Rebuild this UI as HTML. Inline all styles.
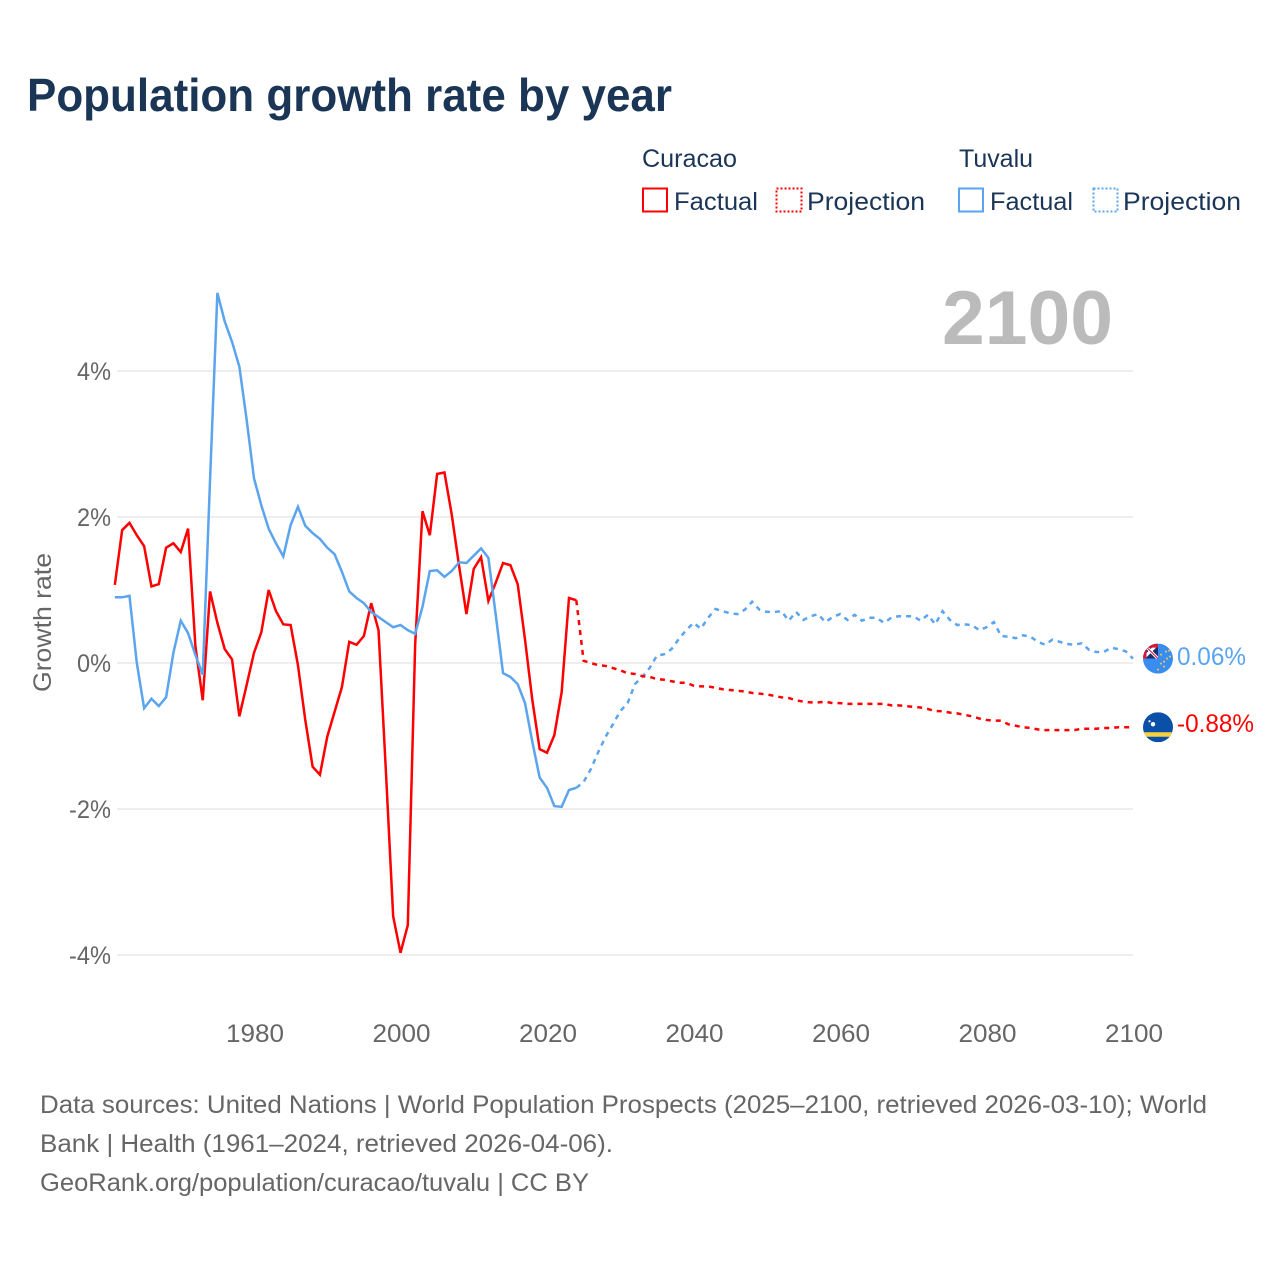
<!DOCTYPE html>
<html lang="en">
<head>
<meta charset="utf-8">
<title>Population growth rate by year</title>
<style>
html,body{margin:0;padding:0;background:#fff;width:1280px;height:1280px;overflow:hidden}
svg{display:block}
text{font-family:"Liberation Sans",sans-serif}
</style>
</head>
<body>
<svg id="chart" xmlns="http://www.w3.org/2000/svg" width="1280" height="1280" viewBox="0 0 1280 1280">
  <defs>
    <clipPath id="flag-clip"><circle cx="0" cy="0" r="15"/></clipPath>
    <clipPath id="jack-clip"><rect x="-15" y="-15" width="15" height="15"/></clipPath>
  </defs>
  <rect width="1280" height="1280" fill="#fff"/>

  <text x="27" y="111" font-size="46" font-weight="700" fill="#1a3556" textLength="645" lengthAdjust="spacingAndGlyphs">Population growth rate by year</text>

  <g font-size="25" fill="#1a3556">
    <text x="642" y="167" textLength="95" lengthAdjust="spacingAndGlyphs">Curacao</text>
    <text x="959" y="167" textLength="74" lengthAdjust="spacingAndGlyphs">Tuvalu</text>
    <g>
      <rect x="643" y="188.5" width="24" height="23" fill="none" stroke="#ff0000" stroke-width="2"/>
      <text x="674" y="210" textLength="84" lengthAdjust="spacingAndGlyphs">Factual</text>
    </g>
    <g>
      <rect x="776.5" y="188.5" width="25" height="23" fill="none" stroke="#ff0000" stroke-width="2" stroke-dasharray="2 2"/>
      <text x="807" y="210" textLength="118" lengthAdjust="spacingAndGlyphs">Projection</text>
    </g>
    <g>
      <rect x="959" y="188.5" width="24" height="23" fill="none" stroke="#5ba4ee" stroke-width="2"/>
      <text x="990" y="210" textLength="83" lengthAdjust="spacingAndGlyphs">Factual</text>
    </g>
    <g>
      <rect x="1093.5" y="188.5" width="24" height="23" fill="none" stroke="#5ba4ee" stroke-width="2" stroke-dasharray="2 2"/>
      <text x="1123" y="210" textLength="118" lengthAdjust="spacingAndGlyphs">Projection</text>
    </g>
  </g>

  <g id="grid"></g>
  <text x="942" y="344" font-size="76" font-weight="700" fill="#bbbbbb" textLength="171" lengthAdjust="spacingAndGlyphs">2100</text>
  <g id="y-axis" font-size="25" fill="#666666"></g>
  <g id="x-axis" font-size="25" fill="#666666"></g>
  <text transform="translate(51,622.5) rotate(-90)" text-anchor="middle" font-size="25" fill="#666666" textLength="139" lengthAdjust="spacingAndGlyphs">Growth rate</text>

  <g id="series"></g>

  <g id="flag-tuvalu">
    <g clip-path="url(#flag-clip)">
      <rect x="-15" y="-15" width="30" height="30" fill="#3a8df0"/>
      <g clip-path="url(#jack-clip)">
        <rect x="-15" y="-15" width="15" height="15" fill="#1a2f6e"/>
        <path d="M-15,-15 L0,0 M-15,0 L0,-15" stroke="#fff" stroke-width="3"/>
        <path d="M-15,-15 L0,0" stroke="#d8163a" stroke-width="1"/>
        <rect x="-15" y="-15" width="15" height="4" fill="#d8163a"/>
        <rect x="-15" y="-15" width="3.5" height="15" fill="#d8163a"/>
      </g>
      <g fill="#f2c84b">
        <circle cx="3" cy="-4" r="1"/><circle cx="8" cy="-7" r="1"/><circle cx="11" cy="-8" r="1"/>
        <circle cx="12" cy="-2" r="1"/><circle cx="9" cy="0" r="1"/><circle cx="6" cy="3" r="1"/>
        <circle cx="3" cy="5" r="1"/><circle cx="6" cy="8" r="1"/><circle cx="0" cy="11" r="1"/>
      </g>
    </g>
  </g>
  <g id="flag-curacao">
    <g clip-path="url(#flag-clip)">
      <rect x="-15" y="-15" width="30" height="30" fill="#0a4fa8"/>
      <rect x="-15" y="5" width="30" height="4.5" fill="#f7d23e"/>
      <circle cx="-5" cy="-3" r="2.2" fill="#fff"/>
      <circle cx="-8.5" cy="-6" r="1.1" fill="#fff"/>
    </g>
  </g>
  <text id="label-tuvalu" x="1177" font-size="25" fill="#5ba4ee" textLength="69" lengthAdjust="spacingAndGlyphs"></text>
  <text id="label-curacao" x="1177" font-size="25" fill="#ff0000" textLength="77" lengthAdjust="spacingAndGlyphs"></text>

  <g font-size="25" fill="#666666">
    <text x="40" y="1113" textLength="1167" lengthAdjust="spacingAndGlyphs">Data sources: United Nations | World Population Prospects (2025–2100, retrieved 2026-03-10); World</text>
    <text x="40" y="1152" textLength="573" lengthAdjust="spacingAndGlyphs">Bank | Health (1961–2024, retrieved 2026-04-06).</text>
    <text x="40" y="1191" textLength="549" lengthAdjust="spacingAndGlyphs">GeoRank.org/population/curacao/tuvalu | CC BY</text>
  </g>
</svg>
<script>
const factualStartYear = 1961;
const projectionStartYear = 2025;
const yTicks = [4, 2, 0, -2, -4];
const xTicks = [1980, 2000, 2020, 2040, 2060, 2080, 2100];

const curacaoFactual = [
  1.07,1.82,1.92,1.75,1.60,1.05,1.08,1.58,1.64,1.52,
  1.84,0.23,-0.51,0.98,0.55,0.19,0.05,-0.73,-0.30,0.14,
  0.42,1.00,0.71,0.53,0.52,-0.03,-0.78,-1.42,-1.53,-1.01,
  -0.67,-0.33,0.29,0.25,0.37,0.82,0.45,-1.47,-3.47,-3.97,
  -3.59,0.25,2.08,1.75,2.59,2.61,2.03,1.33,0.67,1.29,
  1.45,0.85,1.10,1.37,1.34,1.08,0.32,-0.51,-1.18,-1.23,
  -0.99,-0.40,0.89,0.86
];
const curacaoProjection = [
  0.03,0.00,-0.03,-0.04,-0.07,-0.10,-0.14,-0.15,-0.18,-0.19,
  -0.22,-0.23,-0.25,-0.27,-0.27,-0.31,-0.32,-0.32,-0.34,-0.36,
  -0.37,-0.38,-0.39,-0.41,-0.42,-0.43,-0.45,-0.47,-0.48,-0.51,
  -0.53,-0.54,-0.54,-0.53,-0.55,-0.55,-0.56,-0.56,-0.56,-0.56,
  -0.56,-0.56,-0.58,-0.58,-0.59,-0.60,-0.61,-0.63,-0.66,-0.66,
  -0.68,-0.69,-0.71,-0.73,-0.76,-0.78,-0.79,-0.79,-0.84,-0.86,
  -0.88,-0.89,-0.91,-0.92,-0.92,-0.92,-0.92,-0.92,-0.90,-0.90,
  -0.90,-0.89,-0.89,-0.88,-0.88,-0.88
];
const tuvaluFactual = [
  0.90,0.90,0.92,0.00,-0.62,-0.49,-0.59,-0.47,0.14,0.58,
  0.41,0.11,-0.16,2.51,5.07,4.68,4.40,4.06,3.33,2.53,
  2.16,1.84,1.64,1.46,1.89,2.14,1.88,1.78,1.70,1.58,
  1.49,1.25,0.98,0.89,0.82,0.70,0.63,0.56,0.49,0.52,
  0.45,0.40,0.77,1.26,1.27,1.18,1.26,1.38,1.37,1.47,
  1.57,1.44,0.66,-0.14,-0.19,-0.29,-0.55,-1.08,-1.57,-1.71,
  -1.96,-1.97,-1.74,-1.71
];
const tuvaluProjection = [
  -1.63,-1.45,-1.22,-1.01,-0.84,-0.66,-0.55,-0.29,-0.19,-0.07,
  0.10,0.12,0.19,0.33,0.45,0.55,0.47,0.62,0.74,0.71,
  0.68,0.67,0.73,0.84,0.73,0.70,0.70,0.71,0.58,0.70,
  0.59,0.64,0.67,0.56,0.63,0.67,0.59,0.66,0.58,0.62,
  0.62,0.55,0.62,0.64,0.64,0.64,0.58,0.66,0.53,0.71,
  0.59,0.52,0.53,0.52,0.45,0.49,0.56,0.37,0.36,0.34,
  0.38,0.36,0.29,0.25,0.32,0.29,0.26,0.25,0.27,0.18,
  0.15,0.15,0.21,0.19,0.16,0.06
];

const SVG_NS = 'http://www.w3.org/2000/svg';
const RED = '#ff0000';
const BLUE = '#5ba4ee';

function xScale(year) { return 1133 - (2100 - year) * 7.325; }
function yScale(value) { return 663 - 73 * value; }

function linePath(startYear, values) {
  return values.map(function (v, i) {
    return (i ? 'L' : 'M') + xScale(startYear + i).toFixed(2) + ',' + yScale(v).toFixed(2);
  }).join(' ');
}

function tickWidth(label) {
  let w = 0;
  for (const ch of label) { w += ch === '%' ? 19.5 : ch === '-' ? 8 : 14.5; }
  return w;
}

const gridGroup = document.getElementById('grid');
const yAxisGroup = document.getElementById('y-axis');
yTicks.forEach(function (t) {
  const gridLine = document.createElementNS(SVG_NS, 'line');
  
  
  gridLine.setAttribute('x1', 117);
  gridLine.setAttribute('x2', 1133);
  gridLine.setAttribute('y1', yScale(t));
  gridLine.setAttribute('y2', yScale(t));
  gridLine.setAttribute('stroke', '#e9e9e9');
  gridLine.setAttribute('stroke-width', 1.4);
  gridGroup.appendChild(gridLine);

  const label = t + '%';
  const tickText = document.createElementNS(SVG_NS, 'text');
  
  
  tickText.setAttribute('x', 111);
  tickText.setAttribute('y', yScale(t) + 9);
  tickText.setAttribute('text-anchor', 'end');
  tickText.setAttribute('textLength', tickWidth(label));
  tickText.setAttribute('lengthAdjust', 'spacingAndGlyphs');
  tickText.textContent = label;
  yAxisGroup.appendChild(tickText);
});

const xAxisGroup = document.getElementById('x-axis');
xTicks.forEach(function (t) {
  const tickText = document.createElementNS(SVG_NS, 'text');
  
  
  tickText.setAttribute('x', xScale(t) + 1);
  tickText.setAttribute('y', 1042);
  tickText.setAttribute('text-anchor', 'middle');
  tickText.setAttribute('textLength', 58);
  tickText.setAttribute('lengthAdjust', 'spacingAndGlyphs');
  tickText.textContent = String(t);
  xAxisGroup.appendChild(tickText);
});

const seriesGroup = document.getElementById('series');

const tuvaluProjectionLine = document.createElementNS(SVG_NS, 'path');


tuvaluProjectionLine.setAttribute('d', linePath(projectionStartYear - 1, [tuvaluFactual[tuvaluFactual.length - 1]].concat(tuvaluProjection)));
tuvaluProjectionLine.setAttribute('fill', 'none');
tuvaluProjectionLine.setAttribute('stroke', BLUE);
tuvaluProjectionLine.setAttribute('stroke-width', 2.5);
tuvaluProjectionLine.setAttribute('stroke-dasharray', '5 5');
seriesGroup.appendChild(tuvaluProjectionLine);

const curacaoProjectionLine = document.createElementNS(SVG_NS, 'path');


curacaoProjectionLine.setAttribute('d', linePath(projectionStartYear - 1, [curacaoFactual[curacaoFactual.length - 1]].concat(curacaoProjection)));
curacaoProjectionLine.setAttribute('fill', 'none');
curacaoProjectionLine.setAttribute('stroke', RED);
curacaoProjectionLine.setAttribute('stroke-width', 2.5);
curacaoProjectionLine.setAttribute('stroke-dasharray', '5 5');
seriesGroup.appendChild(curacaoProjectionLine);

const curacaoFactualLine = document.createElementNS(SVG_NS, 'path');


curacaoFactualLine.setAttribute('d', linePath(factualStartYear, curacaoFactual));
curacaoFactualLine.setAttribute('fill', 'none');
curacaoFactualLine.setAttribute('stroke', RED);
curacaoFactualLine.setAttribute('stroke-width', 2.5);
seriesGroup.appendChild(curacaoFactualLine);

const tuvaluFactualLine = document.createElementNS(SVG_NS, 'path');


tuvaluFactualLine.setAttribute('d', linePath(factualStartYear, tuvaluFactual));
tuvaluFactualLine.setAttribute('fill', 'none');
tuvaluFactualLine.setAttribute('stroke', BLUE);
tuvaluFactualLine.setAttribute('stroke-width', 2.5);
seriesGroup.appendChild(tuvaluFactualLine);

const tuvaluLast = tuvaluProjection[tuvaluProjection.length - 1];
const curacaoLast = curacaoProjection[curacaoProjection.length - 1];
document.getElementById('flag-tuvalu').setAttribute('transform', 'translate(1158,' + yScale(tuvaluLast) + ')');
document.getElementById('flag-curacao').setAttribute('transform', 'translate(1158,' + yScale(curacaoLast) + ')');
const tuvaluLabel = document.getElementById('label-tuvalu');
tuvaluLabel.setAttribute('y', yScale(tuvaluLast) + 6.5);
tuvaluLabel.textContent = tuvaluLast.toFixed(2) + '%';
const curacaoLabel = document.getElementById('label-curacao');
curacaoLabel.setAttribute('y', yScale(curacaoLast) + 5);
curacaoLabel.textContent = curacaoLast.toFixed(2) + '%';
</script>
</body>
</html>
